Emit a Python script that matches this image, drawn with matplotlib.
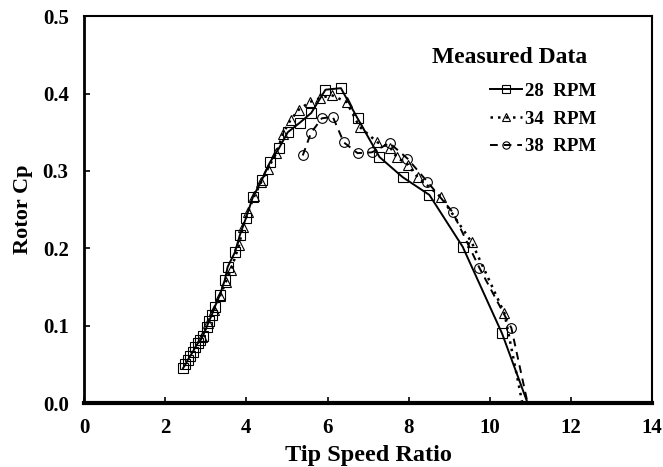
import matplotlib
matplotlib.use('Agg')
import matplotlib.pyplot as plt
from matplotlib.ticker import MultipleLocator, FormatStrFormatter

# ── Data ─────────────────────────────────────────────────────────────────────
# each series ends with the line's zero crossing, which carries no marker
tsr_28 = [2.44, 2.50, 2.56, 2.62, 2.68, 2.74, 2.80, 2.87, 2.93, 3.02, 3.08,
          3.15, 3.22, 3.35, 3.47, 3.54, 3.72, 3.84, 3.99, 4.16, 4.38, 4.58,
          4.80, 5.02, 5.31, 5.60, 5.95, 6.33, 6.74, 7.28, 7.85, 8.51, 9.33,
          10.30, 10.93]
cp_28 = [0.045, 0.050, 0.056, 0.061, 0.066, 0.072, 0.077, 0.081, 0.087,
         0.098, 0.106, 0.114, 0.124, 0.140, 0.159, 0.176, 0.195, 0.217,
         0.239, 0.266, 0.288, 0.311, 0.329, 0.350, 0.362, 0.375, 0.405,
         0.407, 0.368, 0.318, 0.292, 0.269, 0.202, 0.090, 0.0]

tsr_34 = [2.90, 3.05, 3.20, 3.35, 3.50, 3.62, 3.82, 3.92, 4.04, 4.20, 4.37,
          4.53, 4.74, 4.90, 5.09, 5.29, 5.56, 5.81, 6.10, 6.47, 6.79, 7.23,
          7.55, 7.70, 7.98, 8.22, 8.80, 9.55, 10.36, 10.80]
cp_34 = [0.085, 0.103, 0.120, 0.138, 0.157, 0.172, 0.204, 0.228, 0.247,
         0.268, 0.286, 0.303, 0.323, 0.348, 0.366, 0.379, 0.389, 0.394,
         0.398, 0.389, 0.357, 0.337, 0.330, 0.318, 0.308, 0.292, 0.266,
         0.208, 0.116, 0.0]

tsr_38 = [5.39, 5.59, 5.86, 6.13, 6.40, 6.74, 7.09, 7.53, 7.97, 8.46, 9.08,
          9.74, 10.53, 10.93]
cp_38 = [0.320, 0.349, 0.368, 0.370, 0.337, 0.323, 0.324, 0.336, 0.316,
         0.286, 0.247, 0.175, 0.097, 0.0]

labels = ['28  RPM', '34  RPM', '38  RPM']

SERIF = ['Liberation Serif', 'DejaVu Serif']

fig = plt.figure(figsize=(6.63, 4.67), dpi=100, facecolor='white')
ax = fig.add_axes([0.1267, 0.137, 0.857, 0.8283])

ax.plot(tsr_28, cp_28, color='black', lw=1.4, ls='-',
        marker='s', ms=7, mfc='none', mec='black', mew=0.8,
        markevery=list(range(len(tsr_28) - 1)), label=labels[0])
ax.plot(tsr_34, cp_34, color='black', lw=1.8, ls=(0, (1, 2)),
        marker='^', ms=7, mfc='none', mec='black', mew=0.8,
        markevery=list(range(len(tsr_34) - 1)), label=labels[1])
ax.plot(tsr_38, cp_38, color='black', lw=1.4, ls=(0, (4, 3)),
        marker='o', ms=7, mfc='none', mec='black', mew=0.8,
        markevery=list(range(len(tsr_38) - 1)), label=labels[2])

ax.set_xlim(0, 14)
ax.set_ylim(0, 0.5)
ax.xaxis.set_major_locator(MultipleLocator(2))
ax.yaxis.set_major_locator(MultipleLocator(0.1))
ax.yaxis.set_major_formatter(FormatStrFormatter('%.1f'))
ax.tick_params(direction='in', length=4, width=1.2)
ax.tick_params(axis='x', pad=11)
ax.tick_params(axis='y', pad=11)
for lab in ax.get_xticklabels() + ax.get_yticklabels():
    lab.set_family(SERIF)
    lab.set_fontweight('bold')
    lab.set_fontsize(15)

ax.spines['bottom'].set_linewidth(3)
ax.spines['left'].set_linewidth(2)
ax.spines['top'].set_linewidth(1.5)
ax.spines['right'].set_linewidth(1.5)

ax.set_xlabel('Tip Speed Ratio', family=SERIF, fontweight='bold',
              fontsize=17.5, labelpad=5)
ax.set_ylabel('Rotor Cp', family=SERIF, fontweight='bold',
              fontsize=16, labelpad=7)

# legend title drawn as plain text, entries as a frameless legend
ax.text(0.749, 0.894, 'Measured Data', transform=ax.transAxes,
        ha='center', va='center', family=SERIF, fontweight='bold',
        fontsize=17)
ax.legend(loc='upper left', bbox_to_anchor=(0.715, 0.828),
          frameon=False, handlelength=1.7, handletextpad=0.15,
          labelspacing=0.55, borderpad=0, borderaxespad=0,
          markerscale=0.75,
          prop={'family': SERIF, 'weight': 'bold', 'size': 13.6})

fig.savefig('out.png', dpi=100, facecolor='white')
